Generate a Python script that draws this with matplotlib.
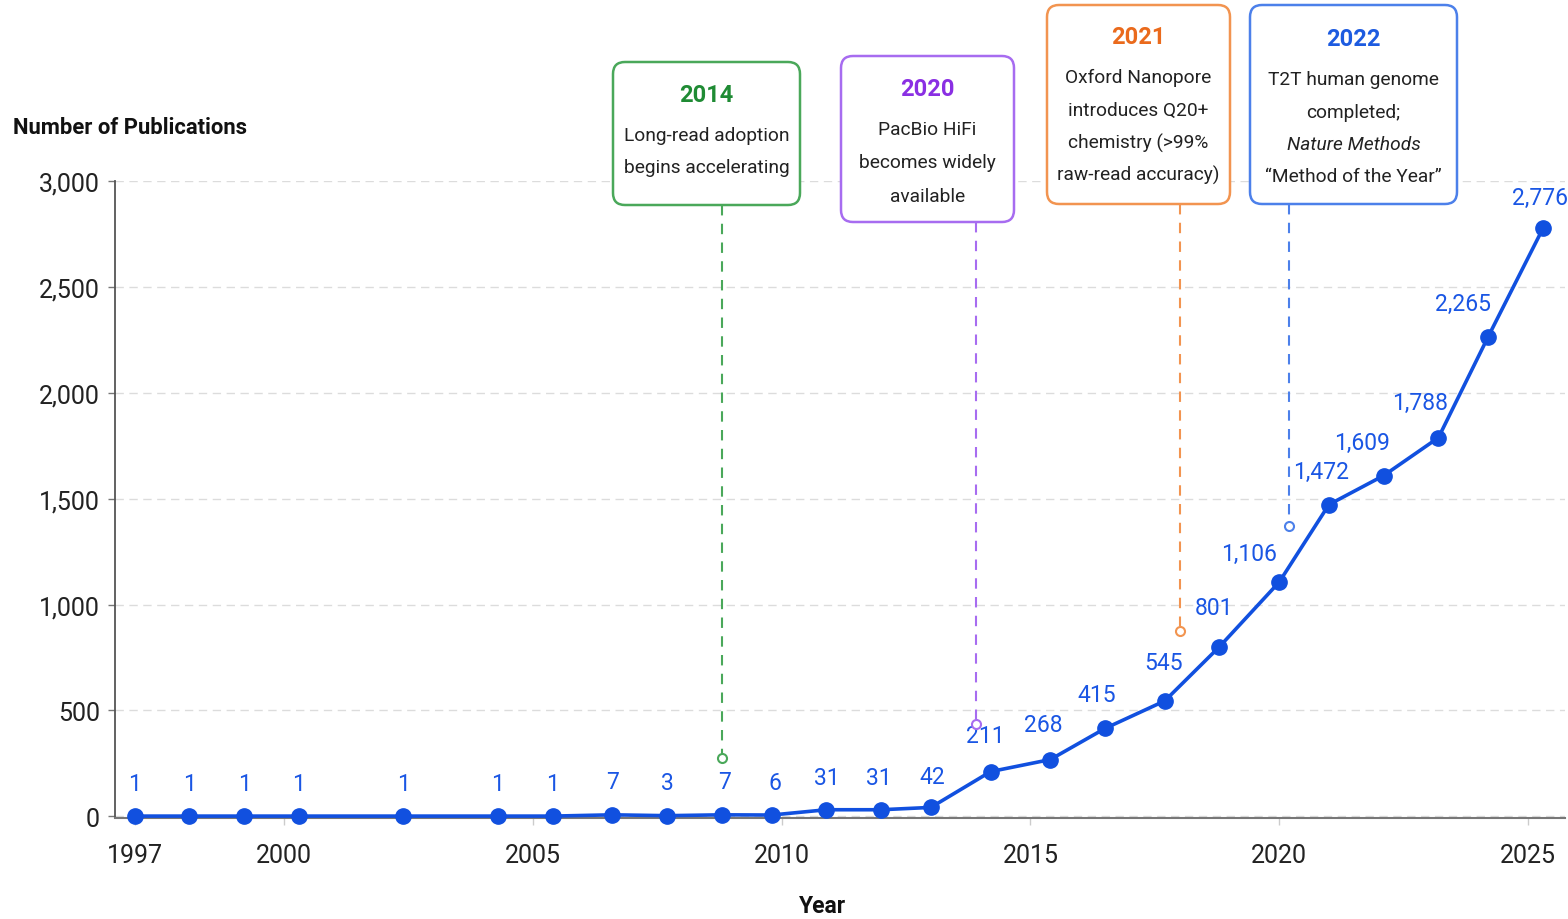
import matplotlib
matplotlib.use("Agg")
import matplotlib.pyplot as plt
from matplotlib.patches import FancyBboxPatch
from matplotlib.lines import Line2D
from matplotlib.ticker import FuncFormatter, FixedLocator

plt.rcParams["font.family"] = ["Roboto", "DejaVu Sans"]

# ---- data -------------------------------------------------------------
years = [1997.0, 1998.1, 1999.2, 2000.3, 2002.4, 2004.3, 2005.4, 2006.6, 2007.7,
         2008.8, 2009.8, 2010.9, 2012.0, 2013.0, 2014.2, 2015.4, 2016.5, 2017.7,
         2018.8, 2020.0, 2021.0, 2022.1, 2023.2, 2024.2, 2025.3]
publications = [1, 1, 1, 1, 1, 1, 1, 7, 3, 7, 6, 31, 31, 42, 211, 268, 415, 545,
                801, 1106, 1472, 1609, 1788, 2265, 2776]

x_ticks = [1997, 2000, 2005, 2010, 2015, 2020, 2025]
y_ticks = [0, 500, 1000, 1500, 2000, 2500, 3000]

event_titles = ["2014", "2020", "2021", "2022"]
event_lines = [
    ["Long-read adoption", "begins accelerating"],
    ["PacBio HiFi", "becomes widely", "available"],
    ["Oxford Nanopore", "introduces Q20+", "chemistry (>99%", "raw-read accuracy)"],
    ["T2T human genome", "completed;", "Nature Methods", "\u201cMethod of the Year\u201d"],
]
marker_x = [2008.8, 2013.9, 2018.0, 2020.2]
marker_y = [275, 436, 877, 1370]

# ---- styling ------------------------------------------------------------
W, H = 1568, 920
BLUE = "#1150df"
LABEL_BLUE = "#1a56e4"
event_title_colors = ["#1f8b34", "#8a2fe3", "#ea6a1c", "#1d5be0"]
event_edge_colors = ["#4aa85a", "#a76cf0", "#f29450", "#4c80ea"]
event_italic = [[], [], [], [2]]

# box layout in pixels: left, right, top, bottom, title y, first-line y, line step
box_layout = [
    (613, 800, 63, 206, 96, 136, 32.5),
    (841, 1014, 57, 223, 90, 130, 33.5),
    (1047, 1230, 6, 205, 38, 78, 32.5),
    (1250, 1457, 6, 205, 40, 80, 32.5),
]

# data-label offsets in pixels (dx, dy above the point)
label_dx = [0, 0, 0, 0, 0, 0, 0, 0, 0, 3, 3, 0, -2, 1, -5, -7, -8, -1, -5,
            -30, -8, -22, -18, -25, -3]
label_dy = [33, 33, 33, 33, 33, 33, 33, 33, 33, 33, 33, 32, 32, 31, 36, 35, 34,
            38, 39, 29, 33, 33, 35, 33, 31]

fig = plt.figure(figsize=(W / 100, H / 100), dpi=100)
fig.patch.set_facecolor("white")

ax_left, ax_right, ax_top, ax_bottom = 115, 1565, 182, 819
ax = fig.add_axes([ax_left / W, 1 - ax_bottom / H,
                   (ax_right - ax_left) / W, (ax_bottom - ax_top) / H])

# x scale: about 49.76 px per year with 2000 at x=284
px_per_year = 49.76
x0_year = 2000 + (ax_left - 284) / px_per_year
x1_year = 2000 + (ax_right - 284) / px_per_year
ax.set_xlim(x0_year, x1_year)
ax.set_ylim(-8, 3000)

for side in ("top", "right"):
    ax.spines[side].set_visible(False)
ax.spines["left"].set_color("#555555")
ax.spines["left"].set_linewidth(1.3)
ax.spines["bottom"].set_color("#777777")
ax.spines["bottom"].set_linewidth(1.5)

ax.xaxis.set_major_locator(FixedLocator(x_ticks))
ax.set_xticklabels([str(t) for t in x_ticks])
ax.yaxis.set_major_locator(FixedLocator(y_ticks))
ax.yaxis.set_major_formatter(FuncFormatter(lambda v, p: f"{int(v):,}"))
ax.tick_params(axis="y", length=5, width=1, color="#777777", pad=6,
               labelsize=18, labelcolor="#222222")
ax.tick_params(axis="x", length=5, width=1, color="#cccccc", pad=13,
               labelsize=18, labelcolor="#222222")

ax.yaxis.grid(True, color="#dcdcdc", linestyle=(0, (6, 4)), linewidth=1)
ax.set_axisbelow(True)

# main series
ax.plot(years, publications, color=BLUE, linewidth=2.6, marker="o",
        markersize=11, markerfacecolor=BLUE, markeredgecolor=BLUE,
        zorder=4, clip_on=False)

for x, y, dx, dy in zip(years, publications, label_dx, label_dy):
    ax.annotate(f"{y:,}", (x, y), xytext=(dx, dy), textcoords="offset pixels",
                ha="center", va="center", fontsize=16.5, color=LABEL_BLUE,
                zorder=5, annotation_clip=False)

# axis titles
fig.text(13 / W, 1 - 128 / H, "Number of Publications", ha="left", va="center",
         fontsize=15.8, fontweight="semibold", color="#111111")
fig.text(823 / W, 1 - 907 / H, "Year", ha="center", va="center",
         fontsize=16.5, fontweight="bold", color="#111111")

# event annotations
fig.canvas.draw()
inch = fig.dpi_scale_trans
for i, title in enumerate(event_titles):
    left, right, top, bottom, ty, ly, step = box_layout[i]
    edge = event_edge_colors[i]
    # anchor circle in data coordinates
    ax.plot([marker_x[i]], [marker_y[i]], marker="o", markersize=6.5,
            markerfacecolor="white", markeredgecolor=edge, markeredgewidth=1.5,
            zorder=6, clip_on=False)
    anchor_disp = ax.transData.transform((marker_x[i], marker_y[i]))
    ax_in = anchor_disp[0] / fig.dpi
    ay_in = anchor_disp[1] / fig.dpi + 0.045
    stem = Line2D([ax_in, ax_in], [(H - bottom) / 100, ay_in], transform=inch,
                  color=edge, linewidth=1.5, linestyle=(0, (5, 4)), zorder=2)
    fig.add_artist(stem)

    box = FancyBboxPatch((left / 100, (H - bottom) / 100),
                         (right - left) / 100, (bottom - top) / 100,
                         boxstyle="round,pad=0,rounding_size=0.12",
                         transform=inch, facecolor="white", edgecolor=edge,
                         linewidth=1.8, zorder=3)
    fig.add_artist(box)
    cx = (left + right) / 2 / 100
    fig.text(cx, (H - ty) / 100, title, transform=inch, ha="center", va="center",
             fontsize=17, fontweight="bold", color=event_title_colors[i], zorder=4)
    for j, line in enumerate(event_lines[i]):
        fig.text(cx, (H - (ly + j * step)) / 100, line, transform=inch,
                 ha="center", va="center", fontsize=13.8, color="#222222",
                 style="italic" if j in event_italic[i] else "normal", zorder=4)

fig.savefig("out.png", dpi=100, facecolor="white")
